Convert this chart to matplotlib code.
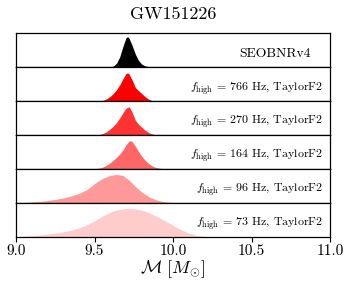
import matplotlib
matplotlib.use("Agg")
import matplotlib.pyplot as plt
from matplotlib.ticker import FixedLocator, FixedFormatter

plt.rcParams['mathtext.fontset'] = 'cm'
plt.rcParams['font.family'] = ['cmr10', 'DejaVu Serif']
plt.rcParams['axes.formatter.use_mathtext'] = True

title = "GW151226"
labels = ["SEOBNRv4",
          r"$f_{\rm high}$ = 766 Hz, TaylorF2",
          r"$f_{\rm high}$ = 270 Hz, TaylorF2",
          r"$f_{\rm high}$ = 164 Hz, TaylorF2",
          r"$f_{\rm high}$ = 96 Hz, TaylorF2",
          r"$f_{\rm high}$ = 73 Hz, TaylorF2"]
colors = ["black", "red", "red", "red", "red", "red"]
alphas = [1.0, 1.0, 0.8, 0.6, 0.4, 0.2]

xticks = [9.0, 9.5, 10.0, 10.5, 11.0]
xticklabels = ["9.0", "9.5", "10.0", "10.5", "11.0"]

# chirp-mass grids and relative posterior densities
m_seob = [9.58, 9.60, 9.62, 9.64, 9.66, 9.68, 9.70, 9.71, 9.72, 9.74, 9.76, 9.78, 9.80, 9.82, 9.84, 9.86, 9.88]
p_seob = [0.0, 0.01, 0.04, 0.14, 0.36, 0.72, 1.04, 1.08, 1.02, 0.76, 0.46, 0.24, 0.11, 0.05, 0.025, 0.01, 0.0]

m_766 = [9.52, 9.54, 9.56, 9.58, 9.60, 9.62, 9.64, 9.66, 9.68, 9.70, 9.71, 9.72, 9.74, 9.76, 9.78, 9.80, 9.82, 9.84, 9.86, 9.88]
p_766 = [0.0, 0.01, 0.04, 0.09, 0.17, 0.27, 0.40, 0.57, 0.78, 0.97, 1.0, 0.96, 0.74, 0.48, 0.37, 0.27, 0.17, 0.08, 0.03, 0.0]

m_270 = [9.50, 9.52, 9.54, 9.56, 9.58, 9.60, 9.62, 9.64, 9.66, 9.68, 9.70, 9.72, 9.74, 9.76, 9.78, 9.80, 9.82, 9.84, 9.86, 9.88, 9.90]
p_270 = [0.0, 0.01, 0.03, 0.07, 0.13, 0.22, 0.32, 0.44, 0.60, 0.78, 0.95, 1.0, 0.80, 0.52, 0.38, 0.28, 0.18, 0.10, 0.05, 0.02, 0.0]

m_164 = [9.48, 9.50, 9.52, 9.54, 9.56, 9.58, 9.60, 9.62, 9.64, 9.66, 9.68, 9.70, 9.72, 9.73, 9.74, 9.76, 9.78, 9.80, 9.82, 9.84, 9.86, 9.88, 9.90, 9.92, 9.95]
p_164 = [0.0, 0.01, 0.02, 0.04, 0.08, 0.14, 0.22, 0.31, 0.41, 0.52, 0.66, 0.85, 0.98, 1.0, 0.96, 0.80, 0.62, 0.45, 0.32, 0.21, 0.13, 0.07, 0.04, 0.02, 0.0]

m_96 = [9.00, 9.05, 9.10, 9.15, 9.20, 9.25, 9.30, 9.35, 9.40, 9.45, 9.50, 9.55, 9.60, 9.64, 9.68, 9.72, 9.76, 9.80, 9.85, 9.90, 9.95, 10.00, 10.05]
p_96 = [0.0, 0.01, 0.03, 0.05, 0.08, 0.12, 0.17, 0.24, 0.33, 0.46, 0.68, 0.86, 0.97, 1.0, 0.97, 0.80, 0.58, 0.38, 0.20, 0.09, 0.03, 0.01, 0.0]

m_73 = [9.00, 9.05, 9.10, 9.15, 9.20, 9.25, 9.30, 9.35, 9.40, 9.45, 9.50, 9.55, 9.60, 9.65, 9.70, 9.75, 9.80, 9.85, 9.90, 9.95, 10.00, 10.05, 10.10, 10.15, 10.20, 10.25]
p_73 = [0.0, 0.02, 0.04, 0.06, 0.09, 0.13, 0.17, 0.23, 0.31, 0.42, 0.56, 0.73, 0.87, 0.96, 1.0, 0.99, 0.94, 0.84, 0.71, 0.56, 0.40, 0.25, 0.13, 0.05, 0.01, 0.0]

masses = [m_seob, m_766, m_270, m_164, m_96, m_73]
dens = [p_seob, p_766, p_270, p_164, p_96, p_73]

fig, axes = plt.subplots(6, 1, figsize=(3.49, 2.86), dpi=100, sharex=True)
fig.subplots_adjust(left=0.046, right=0.9456, top=0.8836, bottom=0.1724, hspace=0)

for i, ax in enumerate(axes):
    ax.fill_between(masses[i], 0, dens[i], color=colors[i], alpha=alphas[i], linewidth=0)
    ax.set_xlim(9.0, 11.0)
    ax.set_ylim(0, 1.2)
    ax.set_yticks([])
    for s in ax.spines.values():
        s.set_linewidth(0.9)
    ax.tick_params(axis='x', which='both', bottom=(i == 5), top=False,
                   direction='out', length=3.5, width=0.8)
    if i == 0:
        ax.text(0.94, 0.38, labels[i], transform=ax.transAxes, ha='right', va='center', fontsize=9.8)
    else:
        ax.text(0.978, 0.38, labels[i], transform=ax.transAxes, ha='right', va='center', fontsize=8.6)

axes[-1].xaxis.set_major_locator(FixedLocator(xticks))
axes[-1].xaxis.set_major_formatter(FixedFormatter(xticklabels))
axes[-1].tick_params(axis='x', labelsize=11, pad=2)
axes[-1].set_xlabel(r"$\mathcal{M}\ [M_{\odot}]$", fontsize=13, labelpad=0)
axes[0].set_title(title, fontsize=13, pad=10)

fig.savefig("out.png", dpi=100)
